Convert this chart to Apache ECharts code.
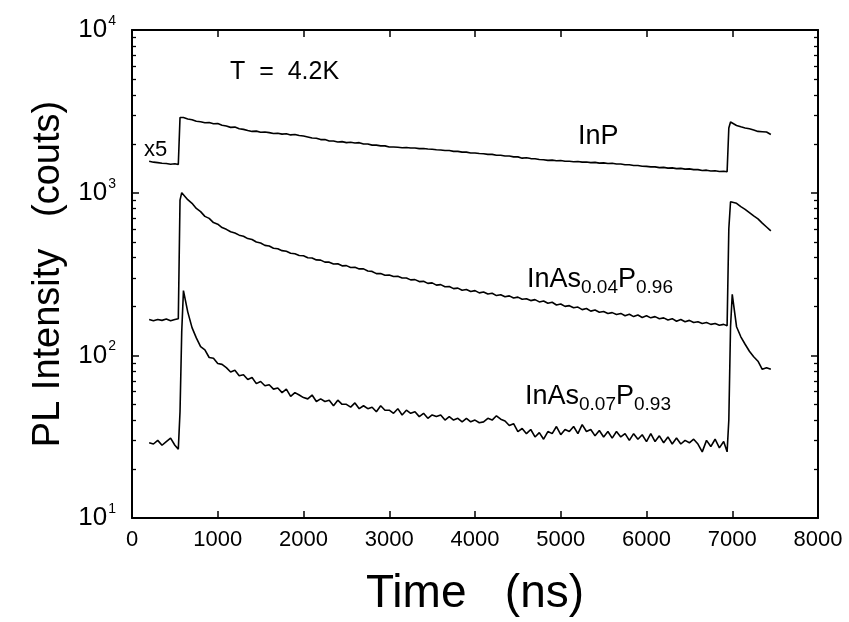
<!DOCTYPE html>
<html>
<head>
<meta charset="utf-8">
<script src="https://cdn.jsdelivr.net/npm/echarts@6/dist/echarts.min.js"></script>
<style>
  html, body { margin: 0; padding: 0; background: #fff; }
  #chart { width: 849px; height: 622px; }
</style>
</head>
<body>
<div id="chart"></div>
<script>
// time axis (ns), shared by the three decay curves
var times = [
  200, 250, 300, 350, 400, 450, 500, 540, 560, 580,
  600, 650, 700, 750, 800, 850, 900, 950, 1000, 1050,
  1100, 1150, 1200, 1250, 1300, 1350, 1400, 1450, 1500, 1550,
  1600, 1650, 1700, 1750, 1800, 1850, 1900, 1950, 2000, 2050,
  2100, 2150, 2200, 2250, 2300, 2350, 2400, 2450, 2500, 2550,
  2600, 2650, 2700, 2750, 2800, 2850, 2900, 2950, 3000, 3050,
  3100, 3150, 3200, 3250, 3300, 3350, 3400, 3450, 3500, 3550,
  3600, 3650, 3700, 3750, 3800, 3850, 3900, 3950, 4000, 4050,
  4100, 4150, 4200, 4250, 4300, 4350, 4400, 4450, 4500, 4550,
  4600, 4650, 4700, 4750, 4800, 4850, 4900, 4950, 5000, 5050,
  5100, 5150, 5200, 5250, 5300, 5350, 5400, 5450, 5500, 5550,
  5600, 5650, 5700, 5750, 5800, 5850, 5900, 5950, 6000, 6050,
  6100, 6150, 6200, 6250, 6300, 6350, 6400, 6450, 6500, 6550,
  6600, 6650, 6700, 6750, 6800, 6850, 6900,
  6940, 6960, 6980,
  7000, 7050, 7100, 7150, 7200, 7250, 7300, 7350, 7400, 7450
];

// InP (x5)
var inP = [
  1560, 1540, 1530, 1515, 1510, 1495, 1505, 1490, 2900, 2950,
  2900, 2840, 2810, 2750, 2730, 2690, 2700, 2650, 2660, 2600,
  2570, 2520, 2530, 2470, 2450, 2410, 2380, 2390, 2350, 2360,
  2340, 2310, 2320, 2290, 2300, 2265, 2280, 2245, 2230, 2200,
  2170, 2160, 2120, 2120, 2080, 2080, 2050, 2060, 2030, 2040,
  2020, 2030, 1990, 1990, 1960, 1960, 1940, 1940, 1910, 1910,
  1900, 1890, 1895, 1880, 1880, 1865, 1870, 1855, 1850, 1835,
  1830, 1815, 1815, 1795, 1795, 1775, 1775, 1755, 1755, 1740,
  1735, 1720, 1720, 1700, 1700, 1680, 1680, 1660, 1660, 1630,
  1640, 1620, 1615, 1600, 1595, 1580, 1585, 1570, 1575, 1560,
  1560, 1550, 1555, 1540, 1545, 1530, 1535, 1520, 1525, 1510,
  1515, 1500, 1500, 1485, 1485, 1470, 1470, 1455, 1450, 1440,
  1440, 1425, 1430, 1415, 1420, 1405, 1410, 1395, 1400, 1385,
  1385, 1370, 1375, 1360, 1365, 1350, 1355,
  1345, 2500, 2720,
  2650, 2590, 2540, 2500, 2470, 2430, 2380, 2370, 2360, 2280
];

// InAs0.04P0.96
var inAs004 = [
  166, 163, 166, 164, 167, 163, 166, 168, 900, 1000,
  975, 905, 860, 800, 765, 715, 695, 655, 640, 610,
  595, 575, 565, 548, 540, 522, 515, 497, 490, 474,
  470, 455, 452, 440, 436, 424, 421, 411, 409, 398,
  397, 386, 385, 374, 374, 364, 366, 355, 356, 347,
  348, 340, 340, 330, 328, 318, 318, 311, 312, 305,
  306, 299, 299, 291, 292, 284, 285, 277, 279, 270,
  272, 264, 265, 257, 259, 251, 254, 247, 250, 242,
  245, 238, 241, 233, 236, 229, 232, 225, 228, 221,
  223, 217, 220, 213, 216, 209, 212, 204, 207, 200,
  202, 196, 198, 191, 194, 187, 190, 184, 186, 181,
  183, 178, 181, 175, 179, 173, 177, 171, 175, 170,
  173, 168, 170, 165, 168, 162, 166, 161, 164, 159,
  161, 157, 159, 155, 157, 153, 155,
  152, 600, 880,
  900, 860, 820, 790, 755, 720, 690, 650, 615, 582
];

// InAs0.07P0.93
var inAs007 = [
  29, 28.5, 30, 28, 29.5, 31, 28, 26.5, 45, 140,
  250, 185, 148, 128, 113, 108, 97, 96, 89, 88,
  84, 79, 81, 75, 76, 71, 73, 67, 69, 65,
  66, 62, 63, 59, 62, 56, 59, 57, 55, 54,
  57, 52, 54, 52, 53, 49, 53, 50, 50, 48,
  51, 47, 49, 47, 48, 45, 49, 46, 46, 44,
  47, 43, 46, 44, 45, 42, 44, 41, 43, 42,
  43, 40, 42, 40, 41, 39, 41, 39, 40, 38.5,
  39, 41, 40, 42.5, 40.5, 39.5, 37, 38, 34, 35.5,
  33, 35, 31.5, 33.5, 30.5, 34, 33, 36.5, 32.5, 35,
  34, 36.5, 33, 37.5, 34, 35, 32, 34.5, 31.5, 34,
  31, 34, 31.5, 33, 30, 33, 30.5, 32.5, 29.5, 33,
  29.5, 32, 29, 31.5, 28.5, 31, 28.5, 30, 29, 30.5,
  28.5, 25.5, 30, 27.5, 30.5, 27, 29.5,
  25.5, 40, 150,
  237, 150, 130, 117, 106, 98, 92, 82, 84, 82
];

var F = '"Liberation Sans", Arial, Helvetica, sans-serif';

function pairs(vals) {
    return times.map(function (t, i) { return [t, vals[i]]; });
}

var chart = echarts.init(document.getElementById('chart'));

var axisLine = { show: true, onZero: false, lineStyle: { color: '#000', width: 2 } };
var axisTick = { show: true, inside: true, length: 7, lineStyle: { color: '#000', width: 1.5 } };

function lineSeries(name, vals) {
    return {
        name: name,
        type: 'line',
        data: pairs(vals),
        showSymbol: false,
        symbol: 'none',
        lineStyle: { color: '#000', width: 1.6 },
        animation: false
    };
}

chart.setOption({
    animation: false,
    backgroundColor: '#fff',
    grid: { left: 132, right: 31, top: 30, bottom: 99 },
    xAxis: [{
        type: 'value', min: 0, max: 8000, interval: 1000, position: 'bottom',
        axisLine: axisLine, axisTick: axisTick,
        axisLabel: {
            color: '#000', fontSize: 22, fontFamily: F, margin: 11,
            formatter: function (v) { return String(v); }
        },
        splitLine: { show: false },
        name: 'Time   (ns)', nameLocation: 'middle', nameGap: 53,
        nameTextStyle: { color: '#000', fontSize: 46, fontFamily: F }
    }, {
        type: 'value', min: 0, max: 8000, interval: 1000, position: 'top',
        axisLine: axisLine, axisTick: axisTick,
        axisLabel: { show: false }, splitLine: { show: false }
    }],
    yAxis: [{
        type: 'log', logBase: 10, min: 10, max: 10000, position: 'left',
        axisLine: axisLine, axisTick: axisTick,
        axisLabel: {
            margin: 16,
            formatter: function (v) {
                return '{b|10}{s|' + Math.round(Math.log10(v)) + '}';
            },
            rich: {
                b: { fontSize: 26, color: '#000', fontFamily: F },
                s: { fontSize: 14, color: '#000', fontFamily: F, padding: [0, 0, 18, 1] }
            }
        },
        splitLine: { show: false },
        name: 'PL Intensity   (couts)', nameLocation: 'middle', nameGap: 60,
        nameTextStyle: { color: '#000', fontSize: 38, fontFamily: F }
    }, {
        type: 'log', logBase: 10, min: 10, max: 10000, position: 'right',
        axisLine: axisLine, axisTick: axisTick,
        axisLabel: { show: false }, splitLine: { show: false }
    }],
    series: [
        lineSeries('InP', inP),
        lineSeries('InAs0.04P0.96', inAs004),
        lineSeries('InAs0.07P0.93', inAs007)
    ]
});

// annotations
var mainRich = {
    a: { fontSize: 27, color: '#000', fontFamily: F },
    b: { fontSize: 19, color: '#000', fontFamily: F, padding: [16, 0, 0, 0] }
};
var graphics = [
    { type: 'text', silent: true, style: { x: 230, y: 72, text: 'T  =  4.2K', fill: '#000', font: '25px ' + F, verticalAlign: 'middle' } },
    { type: 'text', silent: true, style: { x: 144, y: 150, text: 'x5', fill: '#000', font: '22px ' + F, verticalAlign: 'middle' } },
    { type: 'text', silent: true, style: { x: 578, y: 137, text: 'InP', fill: '#000', font: '27px ' + F, verticalAlign: 'middle' } },
    { type: 'text', silent: true, style: { x: 527, y: 280, text: '{a|InAs}{b|0.04}{a|P}{b|0.96}', rich: mainRich, verticalAlign: 'middle' } },
    { type: 'text', silent: true, style: { x: 525, y: 397, text: '{a|InAs}{b|0.07}{a|P}{b|0.93}', rich: mainRich, verticalAlign: 'middle' } }
];

// log minor ticks (2..9 per decade) on left and right axes
var xl = chart.convertToPixel({ xAxisIndex: 0 }, 0);
var xr = chart.convertToPixel({ xAxisIndex: 0 }, 8000);
for (var k = 1; k <= 3; k++) {
    for (var m = 2; m <= 9; m++) {
        var y = Math.round(chart.convertToPixel({ yAxisIndex: 0 }, m * Math.pow(10, k))) + 0.5;
        graphics.push({ type: 'line', silent: true, shape: { x1: xl, y1: y, x2: xl + 4, y2: y }, style: { stroke: '#000', lineWidth: 1.3 } });
        graphics.push({ type: 'line', silent: true, shape: { x1: xr - 4, y1: y, x2: xr, y2: y }, style: { stroke: '#000', lineWidth: 1.3 } });
    }
}
chart.setOption({ graphic: graphics });
</script>
</body>
</html>
